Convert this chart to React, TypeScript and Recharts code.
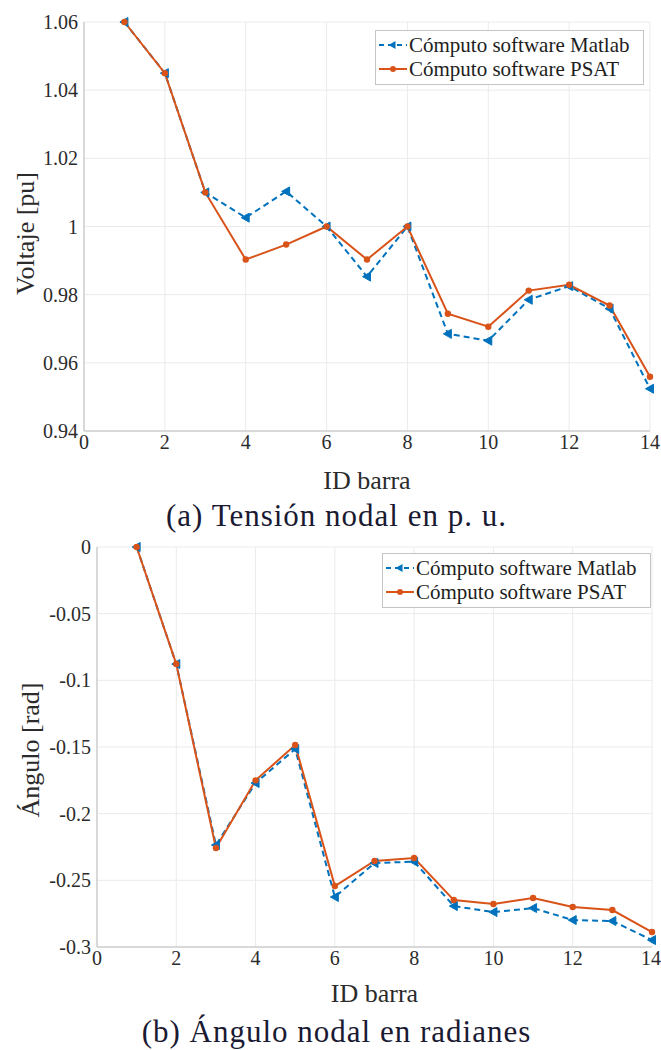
import { CartesianGrid, Legend, Line, LineChart, XAxis, YAxis } from 'recharts';

const barras = [1, 2, 3, 4, 5, 6, 7, 8, 9, 10, 11, 12, 13, 14];

const voltajeMatlab = [1.06, 1.045, 1.01, 1.0026, 1.0103, 1.0, 0.9853, 1.0, 0.9685, 0.9665, 0.9785, 0.9825, 0.9759, 0.9524];
const voltajePsat = [1.06, 1.045, 1.01, 0.9903, 0.9947, 1.0, 0.9903, 1.0, 0.9744, 0.9706, 0.9812, 0.9829, 0.9768, 0.9559];

const anguloMatlab = [0, -0.0878, -0.2235, -0.177, -0.1515, -0.2625, -0.237, -0.236, -0.2693, -0.2738, -0.2708, -0.2798, -0.2805, -0.2948];
const anguloPsat = [0, -0.0878, -0.2258, -0.175, -0.1485, -0.2543, -0.2355, -0.2333, -0.2648, -0.2678, -0.2633, -0.27, -0.2723, -0.2888];

const xTicks = [0, 2, 4, 6, 8, 10, 12, 14];
const voltajeTicks = [0.94, 0.96, 0.98, 1.0, 1.02, 1.04, 1.06];
const anguloTicks = [-0.3, -0.25, -0.2, -0.15, -0.1, -0.05, 0];

const NOMBRE_MATLAB = 'Cómputo software Matlab';
const NOMBRE_PSAT = 'Cómputo software PSAT';

const AZUL = '#0072BD';
const NARANJA = '#D95319';
const FONT = '"Liberation Serif", "Times New Roman", serif';
const TEXT = '#2b2b2b';
const AXIS = '#bdbdbd';
const GRID = '#ebebeb';

const voltajeData = barras.map((b, i) => ({ bus: b, matlab: voltajeMatlab[i], psat: voltajePsat[i] }));
const anguloData = barras.map((b, i) => ({ bus: b, matlab: anguloMatlab[i], psat: anguloPsat[i] }));

const fmt = (v: number) => String(Number(v.toFixed(2)));

function TriangleDot(props: any) {
  const { cx, cy, index } = props;
  if (cx == null || cy == null) return <g key={`t-${index}`} />;
  return (
    <path
      key={`t-${index}`}
      d={`M${cx - 4.5},${cy} L${cx + 3.5},${cy - 4.5} L${cx + 3.5},${cy + 4.5} Z`}
      fill={AZUL}
      stroke={AZUL}
      strokeWidth={1}
    />
  );
}

function RoundDot(props: any) {
  const { cx, cy, index } = props;
  if (cx == null || cy == null) return <g key={`d-${index}`} />;
  return <circle key={`d-${index}`} cx={cx} cy={cy} r={3.2} fill={NARANJA} />;
}

function LegendBox() {
  const row = { display: 'flex', alignItems: 'center', height: 24 } as const;
  return (
    <div
      style={{
        border: '1px solid #c4c4c4',
        background: '#fff',
        width: 265,
        height: 51,
        padding: '2px 0 0 2px',
        fontFamily: FONT,
        fontSize: 21,
        color: '#1e1e1e',
        lineHeight: '24px',
        whiteSpace: 'nowrap',
      }}
    >
      <div style={row}>
        <svg width={30} height={14} style={{ marginRight: 1 }}>
          <line x1={1} y1={7} x2={29} y2={7} stroke={AZUL} strokeWidth={2} strokeDasharray="5 4" />
          <path d="M10.5,7 L17.5,3 L17.5,11 Z" fill={AZUL} />
        </svg>
        <span>{NOMBRE_MATLAB}</span>
      </div>
      <div style={row}>
        <svg width={30} height={14} style={{ marginRight: 1 }}>
          <line x1={1} y1={7} x2={29} y2={7} stroke={NARANJA} strokeWidth={2} />
          <circle cx={15} cy={7} r={3} fill={NARANJA} />
        </svg>
        <span>{NOMBRE_PSAT}</span>
      </div>
    </div>
  );
}

function YTitle({ text, cx, cy }: { text: string; cx: number; cy: number }) {
  return (
    <text
      x={cx}
      y={cy}
      transform={`rotate(-90, ${cx}, ${cy})`}
      textAnchor="middle"
      dominantBaseline="central"
      fontSize={26}
      fill={TEXT}
      style={{ fontFamily: FONT }}
    >
      {text}
    </text>
  );
}

function XTitle({ text, cx, cy }: { text: string; cx: number; cy: number }) {
  return (
    <text
      x={cx}
      y={cy}
      textAnchor="middle"
      dominantBaseline="central"
      fontSize={26}
      fill={TEXT}
      style={{ fontFamily: FONT }}
    >
      {text}
    </text>
  );
}

interface PanelProps {
  data: { bus: number; matlab: number; psat: number }[];
  height: number;
  top: number;
  yWidth: number;
  right: number;
  xHeight: number;
  yDomain: [number, number];
  yTicks: number[];
  yTitle: string;
  yTitleX: number;
  yTitleDy: number;
  xTitleY: number;
  legendTop: number;
  legendLeft: number;
}

function Panel(p: PanelProps) {
  const tick = { fontSize: 20, fill: TEXT, fontFamily: FONT, style: { fontFamily: FONT } };
  return (
    <LineChart
      width={661}
      height={p.height}
      data={p.data}
      margin={{ top: p.top, right: p.right, left: 0, bottom: 0 }}
      style={{ fontFamily: FONT }}
    >
      <CartesianGrid stroke={GRID} strokeWidth={1} />
      <XAxis
        dataKey="bus"
        type="number"
        domain={[0, 14]}
        ticks={xTicks}
        height={p.xHeight}
        tick={tick}
        tickLine={false}
        tickSize={0}
        tickMargin={4}
        axisLine={{ stroke: AXIS }}
        label={(lp: any) => {
          const vb = lp?.viewBox ?? { x: p.yWidth, y: 0, width: 661 - p.yWidth - p.right };
          return <XTitle text="ID barra" cx={vb.x + vb.width / 2} cy={p.xTitleY} />;
        }}
      />
      <YAxis
        type="number"
        domain={p.yDomain}
        ticks={p.yTicks}
        width={p.yWidth}
        tick={tick}
        tickFormatter={fmt}
        tickLine={false}
        tickSize={0}
        tickMargin={6}
        axisLine={{ stroke: AXIS }}
        interval={0}
        label={(lp: any) => {
          const vb = lp?.viewBox ?? { y: p.top, height: 400 };
          return <YTitle text={p.yTitle} cx={p.yTitleX} cy={vb.y + vb.height / 2 + p.yTitleDy} />;
        }}
      />
      <Legend
        layout="vertical"
        align="center"
        verticalAlign="middle"
        content={() => <LegendBox />}
        wrapperStyle={{ top: p.legendTop, left: p.legendLeft, width: 267, height: 53, bottom: 'auto' }}
      />
      <Line
        name={NOMBRE_MATLAB}
        dataKey="matlab"
        type="linear"
        stroke={AZUL}
        strokeWidth={2}
        strokeDasharray="6 4"
        dot={TriangleDot}
        activeDot={false}
        isAnimationActive={false}
      />
      <Line
        name={NOMBRE_PSAT}
        dataKey="psat"
        type="linear"
        stroke={NARANJA}
        strokeWidth={2}
        dot={RoundDot}
        activeDot={false}
        isAnimationActive={false}
      />
    </LineChart>
  );
}

const captionStyle = {
  position: 'absolute',
  left: 6,
  width: 661,
  textAlign: 'center',
  fontFamily: FONT,
  fontSize: 31,
  letterSpacing: 1,
  lineHeight: '31px',
  color: '#1a1a33',
  whiteSpace: 'nowrap',
} as const;

export default function App() {
  return (
    <div style={{ position: 'absolute', left: 0, top: 0, width: 661, height: 1050, background: '#fff', overflow: 'hidden', fontFamily: FONT }}>
      <div style={{ position: 'absolute', left: 0, top: 0 }}>
        <Panel
          data={voltajeData}
          height={520}
          top={22}
          yWidth={84}
          right={11}
          xHeight={89}
          yDomain={[0.94, 1.06]}
          yTicks={voltajeTicks}
          yTitle="Voltaje [pu]"
          yTitleX={25}
          yTitleDy={7}
          xTitleY={480}
          legendTop={30}
          legendLeft={375}
        />
      </div>
      <div style={{ ...captionStyle, top: 500 }}>(a) Tensión nodal en p. u.</div>
      <div style={{ position: 'absolute', left: 0, top: 520 }}>
        <Panel
          data={anguloData}
          height={530}
          top={27}
          yWidth={97}
          right={9}
          xHeight={103}
          yDomain={[-0.3, 0]}
          yTicks={anguloTicks}
          yTitle="Ángulo [rad]"
          yTitleX={30}
          yTitleDy={3}
          xTitleY={473}
          legendTop={33}
          legendLeft={382}
        />
      </div>
      <div style={{ ...captionStyle, top: 1016 }}>(b) Ángulo nodal en radianes</div>
    </div>
  );
}
